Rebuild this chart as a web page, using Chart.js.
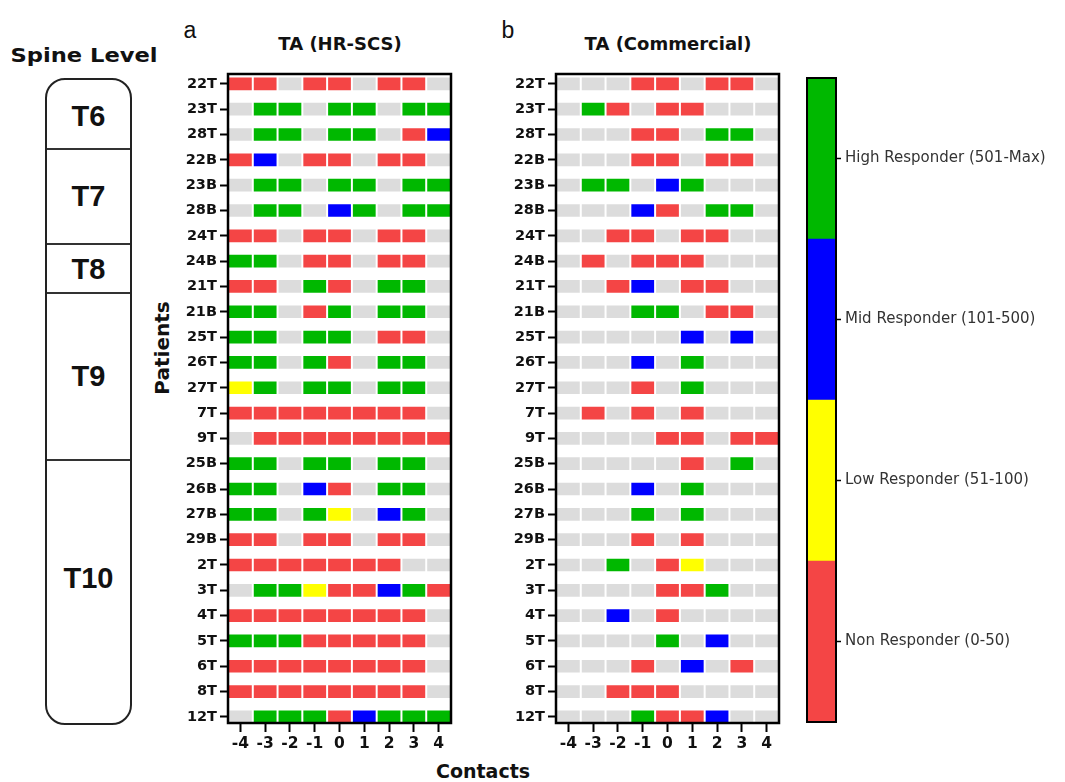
<!DOCTYPE html>
<html>
<head>
<meta charset="utf-8">
<script src="https://cdn.jsdelivr.net/npm/chart.js@4.4.1/dist/chart.umd.min.js"></script>
<style>
  body { margin: 0; background: #fff; font-family: "Liberation Sans", Arial, sans-serif; }
  #page { position: relative; width: 1065px; height: 782px; overflow: hidden; }
  .txt { position: absolute; transform: translate(-50%, -50%); white-space: nowrap; color: #111; }
  .dv { font-family: "DejaVu Sans", sans-serif; font-weight: bold; }
  canvas { position: absolute; }
  #spine { position: absolute; left: 45px; top: 78px; width: 83px; height: 643px;
           border: 2px solid #222; border-radius: 20px; }
  .cut { position: absolute; left: 0; width: 100%; border-top: 2px solid #333; }
  .lvl { position: absolute; left: 50%; transform: translate(-50%, -50%);
         font-weight: bold; font-size: 29px; color: #111; }
</style>
</head>
<body>
<div id="page">
  <div class="txt dv" style="left:84px;top:55px;font-size:19px;transform:translate(-50%,-50%) scaleX(1.19);">Spine Level</div>
  <div id="spine">
    <div class="lvl" style="top:36px;">T6</div>
    <div class="cut" style="top:68px;"></div>
    <div class="lvl" style="top:116px;">T7</div>
    <div class="cut" style="top:163px;"></div>
    <div class="lvl" style="top:189px;">T8</div>
    <div class="cut" style="top:212px;"></div>
    <div class="lvl" style="top:296px;">T9</div>
    <div class="cut" style="top:379px;"></div>
    <div class="lvl" style="top:498px;">T10</div>
  </div>

  <div class="txt" style="left:190px;top:30px;font-size:23px;">a</div>
  <div class="txt" style="left:508px;top:30px;font-size:23px;">b</div>
  <div class="txt dv" style="left:340px;top:43px;font-size:18px;">TA (HR-SCS)</div>
  <div class="txt dv" style="left:668px;top:43px;font-size:18px;">TA (Commercial)</div>
  <div class="txt dv" style="left:162px;top:348px;font-size:20px;transform:translate(-50%,-50%) rotate(-90deg);">Patients</div>
  <div class="txt dv" style="left:483px;top:771px;font-size:19px;">Contacts</div>

  <canvas id="hr" width="284" height="703" style="left:170px;top:60px;"></canvas>
  <canvas id="com" width="284" height="703" style="left:498px;top:60px;"></canvas>
  <canvas id="bar" width="265" height="670" style="left:800px;top:65px;"></canvas>
</div>

<script>
const patients = ['22T', '23T', '28T', '22B', '23B', '28B', '24T', '24B', '21T', '21B', '25T', '26T', '27T',
  '7T', '9T', '25B', '26B', '27B', '29B', '2T', '3T', '4T', '5T', '6T', '8T', '12T'];
const contacts = [-4, -3, -2, -1, 0, 1, 2, 3, 4];

const responseLevels = ['Non Responder (0-50)', 'Low Responder (51-100)',
  'Mid Responder (101-500)', 'High Responder (501-Max)'];
const levelColors = ['#f44545', '#ffff00', '#0000ff', '#00b800'];
const untestedColor = '#dcdcdc';

// 0 = not tested, 1 = non, 2 = low, 3 = mid, 4 = high responder
const hrScs = [
  [1, 1, 0, 1, 1, 0, 1, 1, 0],
  [0, 4, 4, 0, 4, 4, 0, 4, 4],
  [0, 4, 4, 0, 4, 4, 0, 1, 3],
  [1, 3, 0, 1, 1, 0, 1, 1, 0],
  [0, 4, 4, 0, 4, 4, 0, 4, 4],
  [0, 4, 4, 0, 3, 4, 0, 4, 4],
  [1, 1, 0, 1, 1, 0, 1, 1, 0],
  [4, 4, 0, 1, 1, 0, 1, 1, 0],
  [1, 1, 0, 4, 1, 0, 4, 4, 0],
  [4, 4, 0, 1, 4, 0, 4, 4, 0],
  [4, 4, 0, 4, 4, 0, 1, 1, 0],
  [4, 4, 0, 4, 1, 0, 4, 4, 0],
  [2, 4, 0, 4, 4, 0, 4, 4, 0],
  [1, 1, 1, 1, 1, 1, 1, 1, 0],
  [0, 1, 1, 1, 1, 1, 1, 1, 1],
  [4, 4, 0, 4, 4, 0, 4, 4, 0],
  [4, 4, 0, 3, 1, 0, 4, 4, 0],
  [4, 4, 0, 4, 2, 0, 3, 4, 0],
  [1, 1, 0, 1, 1, 0, 1, 1, 0],
  [1, 1, 1, 1, 1, 1, 1, 0, 0],
  [0, 4, 4, 2, 1, 1, 3, 4, 1],
  [1, 1, 1, 1, 1, 1, 1, 1, 0],
  [4, 4, 4, 1, 1, 1, 1, 1, 0],
  [1, 1, 1, 1, 1, 1, 1, 1, 0],
  [1, 1, 1, 1, 1, 1, 1, 1, 0],
  [0, 4, 4, 4, 1, 3, 4, 4, 4]
];

const commercial = [
  [0, 0, 0, 1, 1, 0, 1, 1, 0],
  [0, 4, 1, 0, 1, 1, 0, 0, 0],
  [0, 0, 0, 1, 1, 0, 4, 4, 0],
  [0, 0, 0, 1, 1, 0, 1, 1, 0],
  [0, 4, 4, 0, 3, 4, 0, 0, 0],
  [0, 0, 0, 3, 1, 0, 4, 4, 0],
  [0, 0, 1, 1, 0, 1, 1, 0, 0],
  [0, 1, 0, 1, 1, 1, 0, 0, 0],
  [0, 0, 1, 3, 0, 1, 1, 0, 0],
  [0, 0, 0, 4, 4, 0, 1, 1, 0],
  [0, 0, 0, 0, 0, 3, 0, 3, 0],
  [0, 0, 0, 3, 0, 4, 0, 0, 0],
  [0, 0, 0, 1, 0, 4, 0, 0, 0],
  [0, 1, 0, 1, 0, 1, 0, 0, 0],
  [0, 0, 0, 0, 1, 1, 0, 1, 1],
  [0, 0, 0, 0, 0, 1, 0, 4, 0],
  [0, 0, 0, 3, 0, 4, 0, 0, 0],
  [0, 0, 0, 4, 0, 4, 0, 0, 0],
  [0, 0, 0, 1, 0, 1, 0, 0, 0],
  [0, 0, 4, 0, 1, 2, 0, 0, 0],
  [0, 0, 0, 0, 1, 1, 4, 0, 0],
  [0, 0, 3, 0, 1, 0, 0, 0, 0],
  [0, 0, 0, 0, 4, 0, 3, 0, 0],
  [0, 0, 0, 1, 0, 3, 0, 1, 0],
  [0, 0, 1, 1, 1, 0, 0, 0, 0],
  [0, 0, 0, 4, 1, 1, 3, 0, 0]
];

Chart.defaults.font.family = '"DejaVu Sans", sans-serif';

// black box round the plot area
const frame = {
  id: 'frame',
  afterDraw(chart, args, opts) {
    const { ctx, chartArea: a } = chart;
    ctx.save();
    ctx.lineWidth = opts.width;
    ctx.strokeStyle = '#000';
    ctx.strokeRect(a.left, a.top, a.right - a.left, a.bottom - a.top);
    ctx.restore();
  }
};

function cellColor(code) {
  return code ? levelColors[code - 1] : untestedColor;
}

function heatmap(id, grid) {
  const datasets = contacts.map((c, j) => ({
    data: patients.map((p, i) => ({ x: [c - 0.5, c + 0.5], y: i })),
    backgroundColor: patients.map((p, i) => cellColor(grid[i][j])),
    borderColor: 'rgba(255,255,255,0.55)',
    borderWidth: 1,
    borderSkipped: false,
    grouped: false,
    barPercentage: 0.58,
    categoryPercentage: 1
  }));

  return new Chart(document.getElementById(id), {
    type: 'bar',
    data: { datasets },
    plugins: [frame],
    options: {
      indexAxis: 'y',
      responsive: false,
      animation: false,
      layout: { padding: { top: 14, right: 3 } },
      plugins: {
        legend: { display: false },
        tooltip: { enabled: false },
        frame: { width: 2.5 }
      },
      scales: {
        x: {
          type: 'linear',
          min: -4.5,
          max: 4.5,
          offset: false,
          afterBuildTicks: s => { s.ticks = contacts.map(v => ({ value: v })); },
          afterFit: s => { s.height = 40; },
          border: { display: false },
          grid: { offset: false, drawOnChartArea: false, tickLength: 9, tickWidth: 2, tickColor: '#000' },
          ticks: { color: '#111', padding: 3, font: { size: 15.5, weight: 'bold' } }
        },
        y: {
          type: 'linear',
          reverse: true,
          offset: false,
          min: -0.39,
          max: 25.24,
          afterBuildTicks: s => { s.ticks = patients.map((p, i) => ({ value: i })); },
          afterFit: s => { s.width = 58; },
          border: { display: false },
          grid: { offset: false, drawOnChartArea: false, tickLength: 8, tickWidth: 2, tickColor: '#000' },
          ticks: {
            autoSkip: false,
            color: '#111',
            padding: 3,
            font: { size: 14.5, weight: 'bold' },
            callback: v => patients[v]
          }
        }
      }
    }
  });
}

heatmap('hr', hrScs);
heatmap('com', commercial);

// colour key
new Chart(document.getElementById('bar'), {
  type: 'bar',
  data: {
    labels: [''],
    datasets: responseLevels.map((name, k) => ({
      label: name,
      data: [1],
      backgroundColor: levelColors[k],
      barPercentage: 1,
      categoryPercentage: 1
    }))
  },
  plugins: [frame],
  options: {
    responsive: false,
    animation: false,
    layout: { padding: { left: 7, top: 10, bottom: 13 } },
    plugins: {
      legend: { display: false },
      tooltip: { enabled: false },
      frame: { width: 2 }
    },
    scales: {
      x: { display: false, stacked: true },
      y: {
        stacked: true,
        position: 'right',
        min: 0,
        max: 4,
        afterBuildTicks: s => { s.ticks = responseLevels.map((n, k) => ({ value: k + 0.5 })); },
        afterFit: s => { s.width = 229; },
        border: { display: false },
        grid: { offset: false, drawOnChartArea: false, tickLength: 5, tickWidth: 1.5, tickColor: '#000' },
        ticks: {
          color: '#333',
          padding: 4,
          font: { size: 15 },
          callback: v => responseLevels[Math.floor(v)]
        }
      }
    }
  }
});
</script>
</body>
</html>
